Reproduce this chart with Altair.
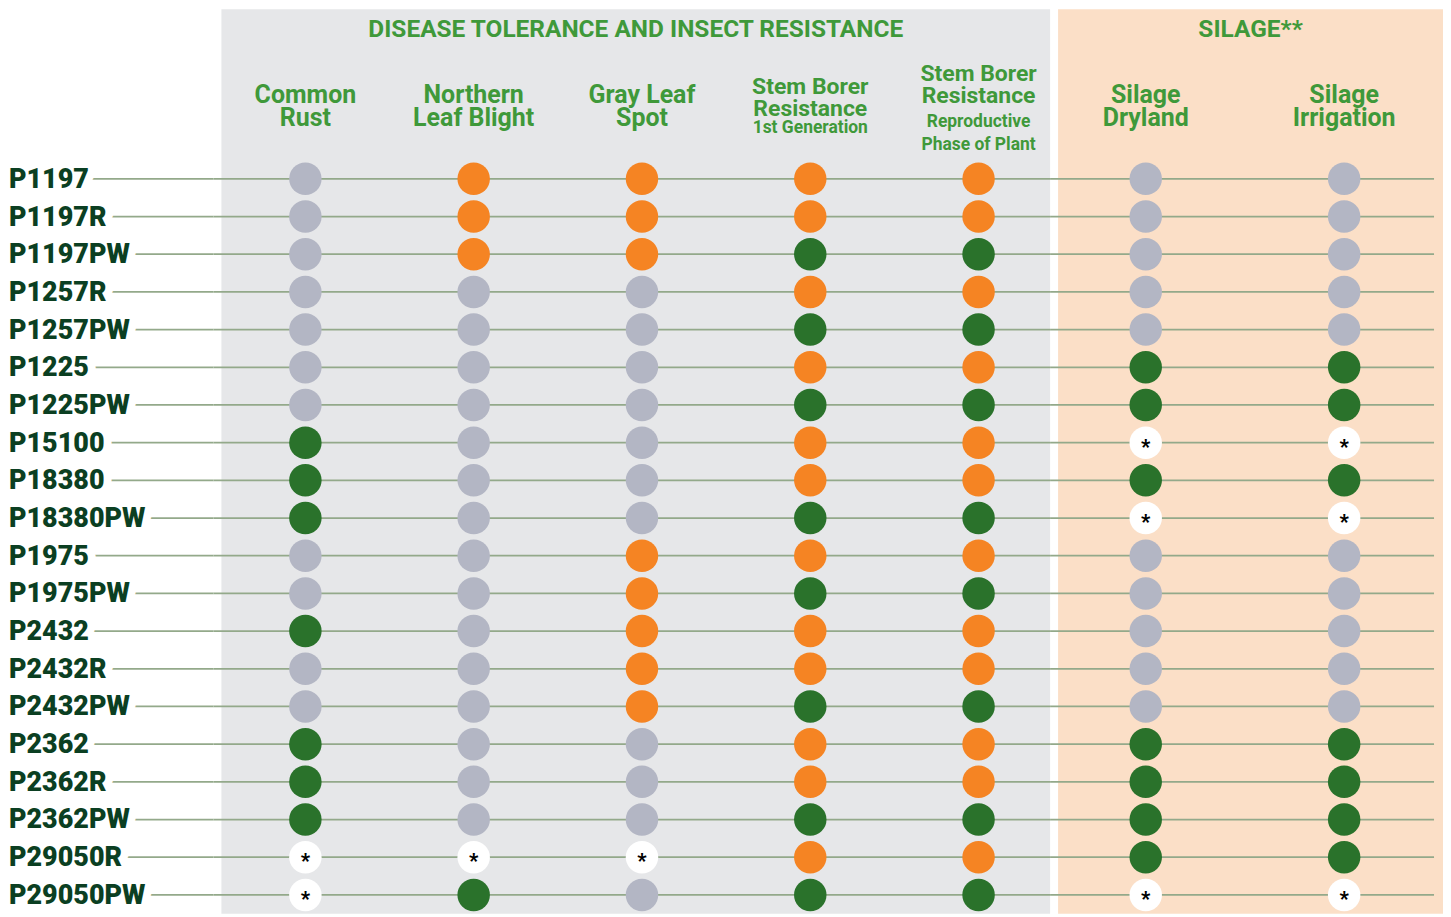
import altair as alt
import pandas as pd

hybrids = ["P1197", "P1197R", "P1197PW", "P1257R", "P1257PW", "P1225", "P1225PW",
           "P15100", "P18380", "P18380PW", "P1975", "P1975PW", "P2432", "P2432R",
           "P2432PW", "P2362", "P2362R", "P2362PW", "P29050R", "P29050PW"]

# G = gray, O = orange, D = dark green, A = not rated (asterisk)
common_rust    = ["G","G","G","G","G","G","G","D","D","D","G","G","D","G","G","D","D","D","A","A"]
northern_leaf  = ["O","O","O","G","G","G","G","G","G","G","G","G","G","G","G","G","G","G","A","D"]
gray_leaf_spot = ["O","O","O","G","G","G","G","G","G","G","O","O","O","O","O","G","G","G","A","G"]
stem_borer_1st = ["O","O","D","O","D","O","D","O","O","D","O","D","O","O","D","O","O","D","O","D"]
stem_borer_rep = ["O","O","D","O","D","O","D","O","O","D","O","D","O","O","D","O","O","D","O","D"]
silage_dry     = ["G","G","G","G","G","D","D","A","D","A","G","G","G","G","G","D","D","D","D","A"]
silage_irr     = ["G","G","G","G","G","D","D","A","D","A","G","G","G","G","G","D","D","D","D","A"]

disease_cols = ["Common Rust", "Northern Leaf Blight", "Gray Leaf Spot",
                "Stem Borer 1st", "Stem Borer Reproductive"]
silage_cols = ["Silage Dryland", "Silage Irrigation"]
group_titles = ["DISEASE TOLERANCE AND INSECT RESISTANCE", "SILAGE**"]

header_main = [
    ("Common Rust", ["Common", "Rust"]),
    ("Northern Leaf Blight", ["Northern", "Leaf Blight"]),
    ("Gray Leaf Spot", ["Gray Leaf", "Spot"]),
    ("Stem Borer 1st", ["Stem Borer", "Resistance"]),
    ("Stem Borer Reproductive", ["Stem Borer", "Resistance"]),
    ("Silage Dryland", ["Silage", "Dryland"]),
    ("Silage Irrigation", ["Silage", "Irrigation"]),
]
header_sub = [
    ("Stem Borer 1st", ["1st Generation"]),
    ("Stem Borer Reproductive", ["Reproductive", "Phase of Plant"]),
]

ratings = {
    "Common Rust": common_rust,
    "Northern Leaf Blight": northern_leaf,
    "Gray Leaf Spot": gray_leaf_spot,
    "Stem Borer 1st": stem_borer_1st,
    "Stem Borer Reproductive": stem_borer_rep,
    "Silage Dryland": silage_dry,
    "Silage Irrigation": silage_irr,
}

slots = ["_title", "_h1", "_h2", "_h3"] + hybrids

rows = []
for col, vals in ratings.items():
    for h, v in zip(hybrids, vals):
        rows.append({"trait": col, "hybrid": h, "rating": v,
                     "star": "*" if v == "A" else ""})
df = pd.DataFrame(rows)
hyb_df = pd.DataFrame({"hybrid": hybrids})

GREEN_T = "#3f993a"
DARK = "#0b3f22"
LINE = "#93a98a"
FONT = "Roboto"

H = 907
yscale = alt.Scale(domain=slots, paddingInner=0, paddingOuter=0)
Y = alt.Y("hybrid:N", scale=yscale, axis=None)

color_scale = alt.Scale(domain=["G", "O", "D", "A"],
                        range=["#b3b6c4", "#f58423", "#2a722b", "#ffffff"])


def rules(x0, x1):
    return alt.Chart(hyb_df).mark_rule(color=LINE, strokeWidth=1.8).encode(
        y=Y, x=alt.value(x0), x2=alt.value(x1))


LBL = dict(align="left", baseline="middle", font=FONT, fontWeight=900,
           fontSize=27, dy=1)
halo = alt.Chart(hyb_df).mark_text(stroke="white", strokeWidth=16, clip=True,
                                   strokeJoin="round", fill="white", **LBL).encode(
    x=alt.value(0), y=Y, text="hybrid:N")
labels = alt.Chart(hyb_df).mark_text(color=DARK, **LBL).encode(
    x=alt.value(0), y=Y, text="hybrid:N")
label_panel = alt.layer(rules(0, 205), halo, labels).properties(width=205, height=H)


def panel(cols, title, width, xscale, fill, x0, x1):
    sub = df[df.trait.isin(cols)]
    X = alt.X("trait:N", scale=xscale, axis=None)
    dots = alt.Chart(sub).mark_circle(size=1060, opacity=1).encode(
        x=X, y=Y,
        color=alt.Color("rating:N", scale=color_scale, legend=None))
    stars = alt.Chart(sub[sub.star != ""]).mark_text(
        font=FONT, fontWeight=900, fontSize=20, color="black", baseline="middle", dy=5
    ).encode(x=X, y=Y, text="star:N")
    tdf = pd.DataFrame({"hybrid": ["_title"], "t": [title]})
    ttl = alt.Chart(tdf).mark_text(font=FONT, fontWeight=700, fontSize=24.5,
                                   color=GREEN_T, baseline="middle", dy=2).encode(
        x=alt.value(width / 2), y=Y, text="t:N")
    subs = dict((c, l) for c, l in header_sub if c in cols)
    hm = [{"trait": c, "hybrid": "_h2", "lines": lines, "nsub": len(subs.get(c, []))}
          for c, lines in header_main if c in cols]
    hmd = pd.DataFrame(hm)
    layers = [rules(x0, x1), dots, stars]
    for n, dy, fs in [(0, -8, 25), (1, -17, 23), (2, -30, 23)]:
        part = hmd[hmd.nsub == n]
        if len(part):
            layers.append(alt.Chart(part).mark_text(
                font=FONT, fontWeight=700, fontSize=fs, color=GREEN_T,
                baseline="middle", lineHeight=23, dy=dy).encode(
                x=X, y=Y, text="lines"))
    if subs:
        sd = pd.DataFrame([{"trait": c, "hybrid": "_h2", "lines": l, "n": len(l)}
                           for c, l in subs.items()])
        for n, dy in [(1, 25), (2, 19)]:
            part = sd[sd.n == n]
            if len(part):
                layers.append(alt.Chart(part).mark_text(
                    font=FONT, fontWeight=700, fontSize=17.5, color=GREEN_T,
                    baseline="middle", lineHeight=23, dy=dy).encode(
                    x=X, y=Y, text="lines"))
    layers.append(ttl)
    return alt.layer(*layers).properties(width=width, height=H,
                                         view=alt.ViewConfig(fill=fill, stroke=None))


dis_scale = alt.Scale(domain=disease_cols, type="point", padding=0.462, align=0.54)
sil_scale = alt.Scale(domain=silage_cols, type="point", padding=0.47, align=0.47)

p_dis = panel(disease_cols, group_titles[0], 831, dis_scale, "#e6e7e9", -8, 831)
p_sil = panel(silage_cols, group_titles[1], 386, sil_scale, "#fbdfc7", -8, 377)

chart = alt.hconcat(label_panel, p_dis, p_sil, spacing=8, bounds="flush").resolve_scale(
    x="independent", color="shared"
).properties(padding=0).configure_view(stroke=None)

chart.save("out.html", embed_options={"renderer": "svg", "actions": False})
